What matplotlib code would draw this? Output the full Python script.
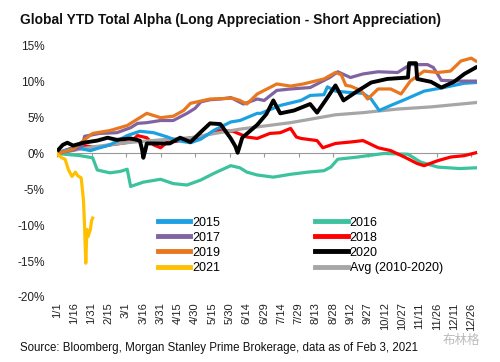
import matplotlib
matplotlib.use("Agg")
import matplotlib.pyplot as plt

plt.rcParams['font.family'] = ['Liberation Sans', 'DejaVu Sans']

# day of year (0 = 1/1) and YTD alpha in %
d2015 = [0, 8, 17, 29, 35, 46, 61, 72, 84, 96, 104, 116, 125, 136, 151, 159, 174, 177, 194, 212, 220, 232, 235, 242, 255, 266, 273, 280, 290, 302, 319, 336, 354, 364]
v2015 = [0, 0.5, 0.8, 0.4, 0.7, 1.2, 2.5, 3.1, 2.9, 2.3, 1.8, 1.5, 2.0, 3.2, 4.4, 4.6, 5.6, 5.6, 6.7, 7.4, 8.1, 8.2, 9.3, 8.7, 8.5, 8.4, 7.6, 6.0, 6.7, 7.5, 8.7, 9.2, 9.8, 9.9]

d2016 = [0, 20, 31, 35, 46, 55, 61, 64, 75, 90, 101, 113, 125, 136, 151, 159, 165, 174, 188, 203, 218, 232, 238, 244, 261, 284, 305, 316, 331, 350, 364]
v2016 = [0, -0.3, -0.6, -2.3, -2.7, -2.5, -2.2, -4.6, -4.0, -3.6, -4.2, -4.4, -3.7, -2.8, -1.7, -2.0, -2.6, -3.0, -3.3, -2.9, -2.6, -2.4, -1.9, -0.8, -0.5, 0.0, -0.1, -1.2, -1.9, -2.1, -2.0]

d2017 = [0, 15, 22, 24, 37, 52, 64, 70, 78, 90, 101, 113, 120, 125, 133, 142, 151, 162, 174, 180, 191, 203, 220, 237, 244, 255, 266, 279, 296, 307, 322, 327, 331, 334, 351, 364]
v2017 = [0, 0.5, 1.0, 2.4, 2.8, 2.9, 3.6, 4.2, 4.3, 4.6, 4.6, 5.6, 6.3, 7.2, 7.5, 7.6, 7.8, 6.9, 7.6, 7.4, 8.8, 9.0, 9.2, 10.6, 11.4, 10.6, 11.1, 11.4, 11.3, 12.4, 12.4, 12.0, 11.0, 10.2, 10.1, 10.1]

d2018 = [0, 10, 23, 35, 46, 64, 70, 78, 84, 90, 96, 104, 116, 125, 139, 153, 165, 174, 185, 194, 203, 208, 212, 226, 231, 242, 255, 266, 279, 290, 302, 313, 319, 331, 342, 354, 364]
v2018 = [0, 0.6, 1.1, 0.8, 1.2, 1.6, 2.5, 2.2, 1.2, 0.8, 1.6, 1.7, 2.2, 2.2, 3.2, 3.1, 2.3, 2.1, 2.8, 2.9, 3.5, 2.3, 2.1, 1.8, 0.8, 1.4, 1.6, 1.8, 0.8, 0.4, -0.5, -1.4, -1.7, -1.0, -0.5, -0.3, 0.1]

d2019 = [0, 14, 23, 31, 46, 61, 78, 90, 101, 110, 116, 133, 153, 159, 165, 174, 191, 203, 214, 232, 242, 247, 251, 255, 264, 270, 279, 290, 299, 307, 319, 331, 342, 351, 360, 364]
v2019 = [0, 0.6, 1.8, 2.8, 3.2, 3.9, 5.6, 5.0, 5.2, 6.0, 7.0, 7.6, 7.7, 7.4, 6.9, 8.3, 9.7, 9.4, 9.7, 10.4, 11.3, 11.0, 9.5, 9.4, 8.8, 7.6, 9.0, 9.0, 8.3, 10.1, 11.5, 11.3, 11.5, 12.9, 13.3, 12.9]

d2020 = [0, 5, 9, 14, 23, 35, 44, 52, 64, 72, 74, 75, 77, 78, 90, 98, 107, 116, 125, 133, 142, 151, 155, 157, 161, 174, 182, 188, 194, 206, 220, 226, 235, 242, 249, 261, 273, 287, 305, 306, 312, 313, 325, 334, 345, 354, 364]
v2020 = [0.3, 1.2, 1.5, 1.1, 1.5, 1.8, 2.2, 1.9, 2.1, 1.8, 0.5, -0.6, 0.6, 1.4, 1.4, 1.4, 2.2, 1.6, 3.0, 4.2, 4.1, 2.1, 1.0, 0.1, 2.2, 4.0, 5.5, 7.4, 5.6, 6.0, 6.9, 5.7, 7.8, 9.5, 7.4, 8.7, 9.9, 10.4, 10.6, 12.6, 12.6, 10.4, 10.0, 9.2, 10.0, 11.1, 12.0]

d2021 = [0, 4, 7, 10, 13, 16, 18, 21, 23, 24, 25, 26, 27, 29, 30, 31]
v2021 = [0, -0.6, -0.8, -2.3, -3.2, -2.6, -3.1, -3.4, -6.5, -10.3, -15.3, -10.6, -11.6, -10.6, -9.4, -9.0]

davg = [0, 30, 60, 90, 116, 159, 203, 242, 266, 296, 325, 364]
vavg = [0, 0.9, 1.5, 1.9, 2.2, 3.4, 4.3, 5.4, 5.7, 6.2, 6.5, 7.1]

tick_labels = ['1/1', '1/16', '1/31', '2/15', '3/1', '3/16', '3/31', '4/15', '4/30', '5/15',
               '5/30', '6/14', '6/29', '7/14', '7/29', '8/13', '8/28', '9/12', '9/27', '10/12',
               '10/27', '11/11', '11/26', '12/11', '12/26']

fig = plt.figure(figsize=(5, 3.62), dpi=100)
ax = fig.add_axes([0.114, 0.180, 0.840, 0.693])

series = [
    (d2015, v2015, '#1ba1e2', '2015', 2.3),
    (d2017, v2017, '#8064a2', '2017', 2.3),
    (d2019, v2019, '#e8771f', '2019', 2.3),
    (d2021, v2021, '#ffc000', '2021', 2.3),
    (d2016, v2016, '#3cc29d', '2016', 2.3),
    (d2018, v2018, '#ff0000', '2018', 2.3),
    (d2020, v2020, '#000000', '2020', 2.8),
    (davg, vavg, '#a6a6a6', 'Avg (2010-2020)', 2.3),
]
draw_order = ['2016', '2018', 'Avg (2010-2020)', '2015', '2017', '2019', '2020', '2021']
handles = {}
for x, y, c, lab, lw in series:
    h, = ax.plot(x, y, color=c, lw=lw, label=lab, zorder=3 + draw_order.index(lab),
                 solid_joinstyle='round')
    handles[lab] = h

ax.set_xlim(0, 365)
ax.set_ylim(-20, 15)
ax.set_yticks(range(-20, 16, 5))
ax.set_yticklabels(['%d%%' % v for v in range(-20, 16, 5)], fontsize=8.5, color='#222222')
ax.tick_params(axis='y', length=0, pad=9)

for s in ['top', 'right', 'left']:
    ax.spines[s].set_visible(False)
# zero line carries the tick marks
ax.spines['bottom'].set_position(('data', 0))
ax.spines['bottom'].set_color('#999999')
ax.spines['bottom'].set_zorder(2)
ax.set_xticks(range(0, 366, 30))
ax.tick_params(axis='x', length=3, color='#999999', labelbottom=False, direction='out')

# date labels at the bottom
sec = ax.secondary_xaxis('bottom')
sec.spines['bottom'].set_visible(False)
sec.set_xticks(range(0, 361, 15))
sec.set_xticklabels(tick_labels, rotation=90, fontsize=8, color='#222222')
sec.tick_params(length=0, pad=4)

order = ['2015', '2017', '2019', '2021', '2016', '2018', '2020', 'Avg (2010-2020)']
leg = ax.legend([handles[k] for k in order], order, ncol=2, loc='upper left',
                bbox_to_anchor=(0.225, 0.345), frameon=False, fontsize=9,
                handlelength=2.6, handletextpad=0.15, columnspacing=7.6,
                labelspacing=0.25, borderpad=0)
for line in leg.get_lines():
    line.set_linewidth(3.5)

fig.text(0.04, 0.945, 'Global YTD Total Alpha (Long Appreciation - Short Appreciation)',
         fontsize=9.95, fontweight='bold', ha='left', va='center', color='#111111')
fig.text(0.04, 0.04, 'Source: Bloomberg, Morgan Stanley Prime Brokerage, data as of Feb 3, 2021',
         fontsize=8.3, ha='left', va='center', color='#111111')
fig.text(0.885, 0.06, '布林格', fontsize=9, ha='left', va='center', color='#bbbbbb',
         family=['Noto Sans CJK SC', 'DejaVu Sans'])

fig.savefig('out.png', dpi=100)
